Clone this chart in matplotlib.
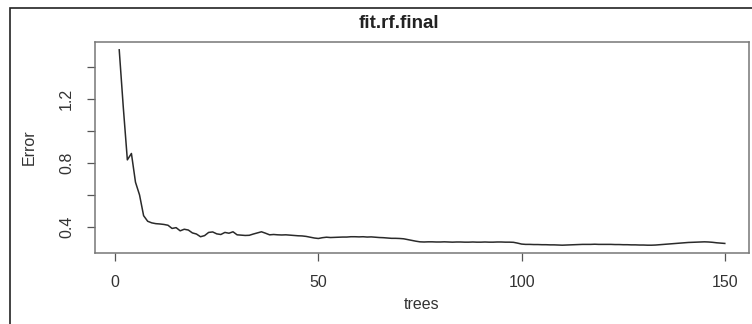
import matplotlib
matplotlib.use("Agg")
import matplotlib.pyplot as plt
from matplotlib.patches import Rectangle
import numpy as np

plt.rcParams['font.family'] = ['Liberation Sans', 'DejaVu Sans']

# OOB error per number of trees
error = [
    1.510, 1.150, 0.820, 0.860, 0.680, 0.600, 0.470, 0.435, 0.425, 0.420,
    0.418, 0.415, 0.410, 0.390, 0.395, 0.375, 0.385, 0.380, 0.362, 0.355,
    0.338, 0.345, 0.365, 0.368, 0.356, 0.352, 0.365, 0.360, 0.369, 0.350,
    0.348, 0.346, 0.347, 0.355, 0.362, 0.369, 0.360, 0.350, 0.352, 0.350,
    0.349, 0.350, 0.348, 0.346, 0.344, 0.343, 0.340, 0.335, 0.330, 0.327,
    0.332, 0.335, 0.333, 0.334, 0.335, 0.336, 0.336, 0.338, 0.338, 0.337,
    0.338, 0.336, 0.337, 0.335, 0.333, 0.332, 0.330, 0.328, 0.328, 0.327,
    0.325, 0.320, 0.315, 0.310, 0.306, 0.305, 0.306, 0.306, 0.305, 0.305,
    0.306, 0.305, 0.304, 0.305, 0.305, 0.304, 0.304, 0.305, 0.304, 0.304,
    0.305, 0.304, 0.304, 0.305, 0.305, 0.304, 0.304, 0.303, 0.298, 0.292,
    0.290, 0.290, 0.289, 0.289, 0.288, 0.288, 0.287, 0.287, 0.286, 0.285,
    0.286, 0.287, 0.288, 0.289, 0.290, 0.290, 0.290, 0.291, 0.290, 0.290,
    0.290, 0.290, 0.289, 0.289, 0.288, 0.288, 0.287, 0.287, 0.286, 0.286,
    0.285, 0.285, 0.286, 0.288, 0.290, 0.292, 0.294, 0.296, 0.298, 0.300,
    0.302, 0.303, 0.304, 0.305, 0.306, 0.305, 0.303, 0.300, 0.298, 0.296,
]
trees = np.arange(1, len(error) + 1)

x_ticks = [0, 50, 100, 150]
y_ticks = [0.4, 0.6, 0.8, 1.0, 1.2, 1.4]
y_labels = ['0.4', '', '0.8', '', '1.2', '']

fig = plt.figure(figsize=(7.52, 3.24), dpi=100)
ax = fig.add_axes([95 / 752, 1 - 253 / 324, (749 - 95) / 752, (253 - 42) / 324])

ax.plot(trees, error, color='#2a2a2a', lw=1.1)

lo, hi = min(error), max(error)
pad = (hi - lo) * 0.04
ax.set_ylim(lo - pad, hi + pad)
pad_x = (len(error) - 1) * 0.04
ax.set_xlim(1 - pad_x, len(error) + pad_x)

ax.set_xticks(x_ticks)
ax.set_yticks(y_ticks)
ax.set_yticklabels(y_labels, rotation=90, va='center')
ax.tick_params(axis='both', direction='out', length=6, width=0.9,
               color='#555555', labelsize=11.5, labelcolor='#333333')
ax.tick_params(axis='x', pad=10)
ax.tick_params(axis='y', pad=9)
for s in ax.spines.values():
    s.set_color('#777777')
    s.set_linewidth(1.1)

ax.set_xlabel('trees', fontsize=11.5, color='#333333', labelpad=5)
ax.set_ylabel('Error', fontsize=11.5, color='#333333', labelpad=16)
fig.text(399 / 752, 1 - 23 / 324, 'fit.rf.final', ha='center', va='center',
         fontsize=13.5, fontweight='bold', color='#222222')

# screenshot frame
fig.patches.append(Rectangle((10 / 752, -0.1), 1.2, 1 - 8 / 324 + 0.1,
                             transform=fig.transFigure, fill=False,
                             edgecolor='#222222', lw=1.2))

fig.savefig('out.png', dpi=100)
